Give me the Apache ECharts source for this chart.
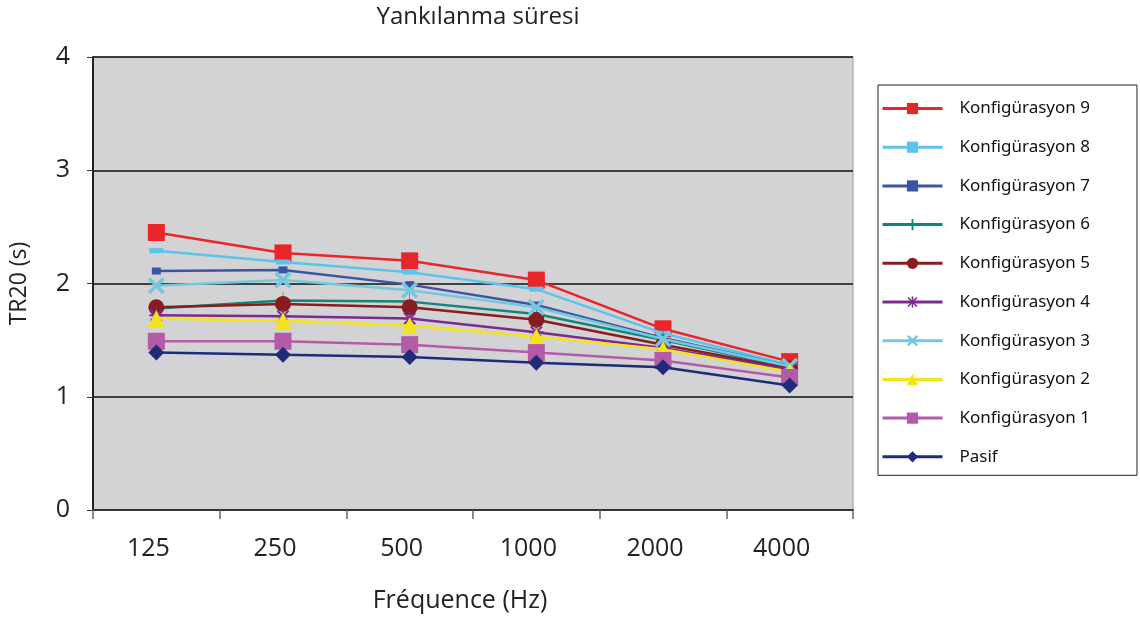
<!DOCTYPE html>
<html>
<head>
<meta charset="utf-8">
<script src="https://cdn.jsdelivr.net/npm/echarts@6/dist/echarts.min.js"></script>
<style>
  html, body { margin: 0; padding: 0; background: #fff; }
  #chart { width: 1140px; height: 621px; }
</style>
</head>
<body>
<div id="chart"></div>
<script>
// frekans bantlari
const frequencies = ['125', '250', '500', '1000', '2000', '4000'];
const yTicks = [0, 1, 2, 3, 4];

// TR20 degerleri (s)
const konf9 = [2.45, 2.27, 2.20, 2.03, 1.60, 1.31];
const konf8 = [2.29, 2.19, 2.10, 1.95, 1.56, 1.28];
const konf7 = [2.11, 2.12, 1.99, 1.81, 1.52, 1.27];
const konf6 = [1.78, 1.85, 1.84, 1.73, 1.50, 1.26];
const konf5 = [1.79, 1.82, 1.79, 1.68, 1.46, 1.25];
const konf4 = [1.72, 1.71, 1.69, 1.57, 1.43, 1.24];
const konf3 = [1.98, 2.03, 1.94, 1.79, 1.51, 1.27];
const konf2 = [1.69, 1.67, 1.63, 1.53, 1.42, 1.22];
const konf1 = [1.49, 1.49, 1.46, 1.39, 1.32, 1.17];
const pasif = [1.39, 1.37, 1.35, 1.30, 1.26, 1.10];

const seriesNames = ['Konfigürasyon 9', 'Konfigürasyon 8', 'Konfigürasyon 7', 'Konfigürasyon 6',
  'Konfigürasyon 5', 'Konfigürasyon 4', 'Konfigürasyon 3', 'Konfigürasyon 2', 'Konfigürasyon 1', 'Pasif'];
const seriesData = [konf9, konf8, konf7, konf6, konf5, konf4, konf3, konf2, konf1, pasif];
const colors = ['#e8262a', '#5cc3ec', '#3a55a6', '#12857a', '#8a1b1f', '#7c2a90', '#72c9dd', '#f4e318', '#b45ba7', '#1f2a78'];

// isaretler
const xPath = 'path://M0,1.5 L1.5,0 L5,3.5 L8.5,0 L10,1.5 L6.5,5 L10,8.5 L8.5,10 L5,6.5 L1.5,10 L0,8.5 L3.5,5 Z';
const plusPath = 'path://M4.2,0 H5.8 V4.2 H10 V5.8 H5.8 V10 H4.2 V5.8 H0 V4.2 H4.2 Z';
const starPath = 'path://M4.3,0 H5.7 V4.3 H10 V5.7 H5.7 V10 H4.3 V5.7 H0 V4.3 H4.3 Z M0.5,1.5 L1.5,0.5 L5,4 L8.5,0.5 L9.5,1.5 L6,5 L9.5,8.5 L8.5,9.5 L5,6 L1.5,9.5 L0.5,8.5 L4,5 Z';
const symbols = ['rect', 'rect', 'rect', plusPath, 'circle', starPath, xPath, 'triangle', 'rect', 'diamond'];
const symbolSizes = [17, [14, 5], [9, 7], [4, 18], 16, 14, 17, 17, 17, 16];

const chart = echarts.init(document.getElementById('chart'));

const option = {
  animation: false,
  title: {
    text: 'Yankılanma süresi',
    left: 473,
    textAlign: 'center',
    top: 0,
    textStyle: { fontFamily: 'Open Sans', fontSize: 24, fontWeight: 'normal', color: '#222' }
  },
  grid: {
    left: 93, right: 287, top: 57, bottom: 111,
    show: true,
    backgroundColor: '#d3d3d5',
    borderColor: '#9a9a9a',
    borderWidth: 1
  },
  legend: {
    orient: 'vertical',
    left: 878,
    top: 85,
    padding: [12, 47, 7, 3],
    itemWidth: 60,
    itemHeight: 14,
    itemGap: 15.7,
    borderColor: '#222',
    borderWidth: 1,
    data: seriesNames,
    lineStyle: { width: 3 },
    textStyle: { fontFamily: 'Noto Sans', fontSize: 17, lineHeight: 23, color: '#111', padding: [0, 0, 0, 12] }
  },
  xAxis: {
    type: 'category',
    data: frequencies,
    boundaryGap: true,
    name: 'Fréquence (Hz)',
    nameLocation: 'middle',
    nameGap: 78,
    nameTextStyle: { fontFamily: 'Open Sans', fontSize: 25, color: '#222', padding: [0, 26, 0, 0] },
    axisLine: { lineStyle: { color: '#333', width: 2 } },
    axisTick: { show: true, length: 9, lineStyle: { color: '#666', width: 1.5 } },
    axisLabel: { margin: 26, fontFamily: 'Open Sans', fontSize: 25, color: '#222', padding: [0, 16, 0, 0] },
    splitLine: { show: false }
  },
  yAxis: {
    type: 'value',
    min: yTicks[0],
    max: yTicks[yTicks.length - 1],
    interval: 1,
    name: 'TR20 (s)',
    nameLocation: 'middle',
    nameGap: 62,
    nameTextStyle: { fontFamily: 'Open Sans', fontSize: 23, color: '#222' },
    axisLine: { show: true, lineStyle: { color: '#222', width: 2 } },
    axisTick: { show: true, length: 6, lineStyle: { color: '#333' } },
    axisLabel: { margin: 23, fontFamily: 'Open Sans', fontSize: 25, color: '#222' },
    splitLine: { show: true, lineStyle: { color: '#111', width: 1.5 } }
  },
  series: seriesNames.map((name, i) => ({
    name: name,
    type: 'line',
    data: seriesData[i],
    symbol: symbols[i],
    symbolSize: symbolSizes[i],
    showAllSymbol: true,
    color: colors[i],
    lineStyle: { color: colors[i], width: 2.5 },
    itemStyle: { color: colors[i] },
    z: 2 + i
  }))
};

chart.setOption(option);
</script>
</body>
</html>
